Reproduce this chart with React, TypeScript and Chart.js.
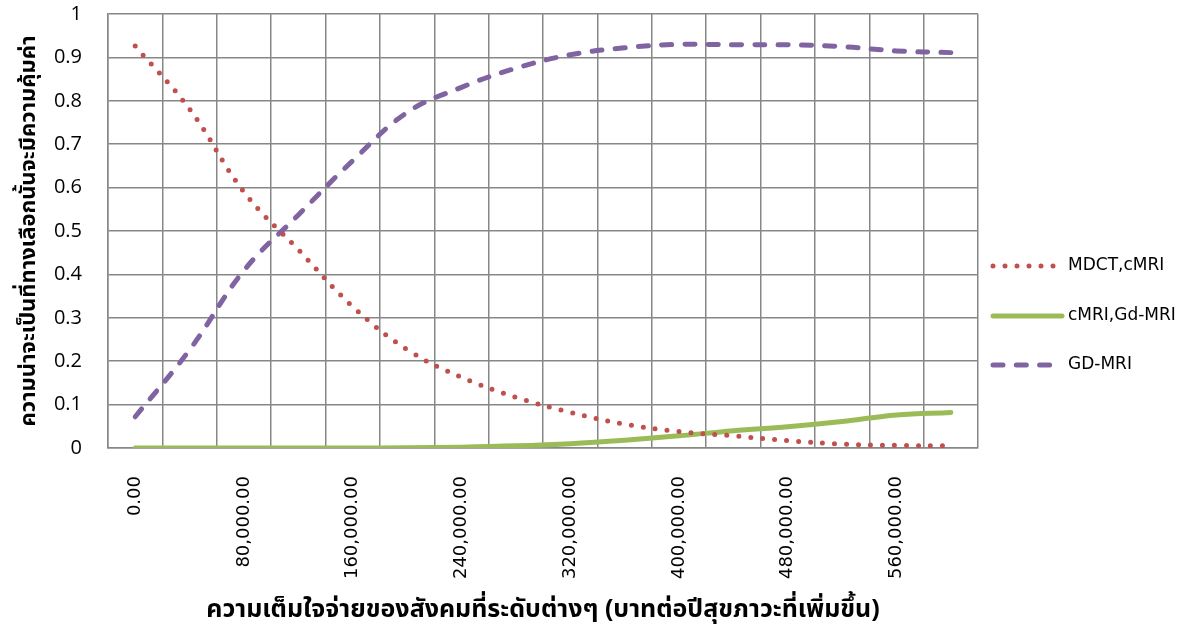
import { useEffect, useRef } from "react";
import { Chart, registerables } from "chart.js";

Chart.register(...registerables);

// Willingness-to-pay levels (baht per QALY gained)
const wtpLevels = [
  0, 40000, 80000, 120000, 160000, 200000, 240000, 280000,
  320000, 360000, 400000, 440000, 480000, 520000, 560000, 600000,
];

// Probability that each strategy is cost-effective at every WTP level
const mdctCmri = [
  0.926, 0.781, 0.59, 0.457, 0.326, 0.227, 0.163, 0.117,
  0.082, 0.055, 0.038, 0.028, 0.017, 0.009, 0.006, 0.005,
];
const cmriGdMri = [
  0, 0, 0, 0, 0, 0.0005, 0.002, 0.005,
  0.01, 0.018, 0.028, 0.04, 0.049, 0.061, 0.076, 0.082,
];
const gdMri = [
  0.072, 0.226, 0.409, 0.537, 0.662, 0.773, 0.831, 0.875,
  0.906, 0.922, 0.93, 0.929, 0.929, 0.925, 0.915, 0.911,
];

const seriesNames = ["MDCT,cMRI", "cMRI,Gd-MRI", "GD-MRI"];
const yTicks = [0, 0.1, 0.2, 0.3, 0.4, 0.5, 0.6, 0.7, 0.8, 0.9, 1];

const xTitle = "ความเต็มใจจ่ายของสังคมที่ระดับต่างๆ (บาทต่อปีสุขภาวะที่เพิ่มขึ้น)";
const yTitle = "ความน่าจะเป็นที่ทางเลือกนั้นจะมีความคุ้มค่า";

const formatBaht = (v: number) =>
  v.toLocaleString("en-US", { minimumFractionDigits: 2, maximumFractionDigits: 2 });

const GRID = "#878787";
const THAI_FONT = "Tahoma, 'Noto Sans Thai', 'Noto Sans', 'DejaVu Sans', sans-serif";

// Legend drawn at the right of the plot, with each dataset's own line style
const sideLegend = {
  id: "sideLegend",
  afterDraw(chart: any) {
    const ctx = chart.ctx;
    const rows = [266, 316, 365];
    chart.data.datasets.forEach((ds: any, i: number) => {
      const y = rows[i];
      ctx.save();
      ctx.strokeStyle = ds.borderColor;
      ctx.lineWidth = ds.borderWidth;
      ctx.lineCap = ds.borderCapStyle || "butt";
      ctx.setLineDash(ds.borderDash || []);
      ctx.beginPath();
      const x0 = 993;
      const x1 = i === 1 ? 1062 : i === 0 ? 1054 : 1052;
      ctx.moveTo(x0, y);
      ctx.lineTo(x1, y);
      ctx.stroke();
      ctx.setLineDash([]);
      ctx.fillStyle = "#000";
      ctx.font = "17px 'DejaVu Sans', sans-serif";
      ctx.textAlign = "left";
      ctx.textBaseline = "middle";
      ctx.fillText(ds.label, 1068, y);
      ctx.restore();
    });
  },
};

export default function App() {
  const canvasRef = useRef<HTMLCanvasElement | null>(null);

  useEffect(() => {
    const canvas = canvasRef.current;
    if (!canvas) return;
    const labels = wtpLevels.map(formatBaht);
    const chart = new Chart(canvas, {
      type: "line",
      data: {
        labels,
        datasets: [
          {
            label: seriesNames[0],
            data: mdctCmri,
            borderColor: "#C0504D",
            borderWidth: 5,
            borderDash: [0, 12],
            borderCapStyle: "round",
            pointRadius: 0,
            tension: 0.4,
            fill: false,
          },
          {
            label: seriesNames[1],
            data: cmriGdMri,
            borderColor: "#9BBB59",
            borderWidth: 5,
            borderCapStyle: "round",
            pointRadius: 0,
            tension: 0.4,
            fill: false,
          },
          {
            label: seriesNames[2],
            data: gdMri,
            borderColor: "#8064A2",
            borderWidth: 5,
            borderDash: [10, 13.3],
            borderCapStyle: "round",
            pointRadius: 0,
            tension: 0.4,
            fill: false,
          },
        ],
      },
      options: {
        responsive: false,
        animation: false,
        layout: { padding: { top: 14, right: 211, bottom: 0, left: 0 } },
        plugins: {
          legend: { display: false },
          tooltip: { enabled: false },
        },
        scales: {
          x: {
            offset: true,
            grid: { offset: true, color: GRID, lineWidth: 1.5, drawTicks: false },
            border: { color: GRID, width: 1.5 },
            ticks: {
              autoSkip: false,
              minRotation: 90,
              maxRotation: 90,
              padding: 28,
              color: "#000",
              font: { family: "'DejaVu Sans', sans-serif", size: 18 },
              callback: function (this: any, v: any, i: number) {
                return i % 2 === 0 ? this.getLabelForValue(v) : "";
              },
            },
            title: {
              display: true,
              text: xTitle,
              color: "#000",
              font: { family: THAI_FONT, size: 25, weight: "bold" },
              padding: { top: 0, bottom: 7 },
            },
            afterFit: (s: any) => {
              s.height = 186;
            },
          },
          y: {
            min: 0,
            max: 1,
            afterBuildTicks: (s: any) => {
              s.ticks = yTicks.map((value) => ({ value }));
            },
            // invisible tick marks push the labels away from the axis
            grid: {
              color: GRID,
              lineWidth: 1.5,
              drawTicks: true,
              tickLength: 24,
              tickColor: "rgba(0,0,0,0)",
            },
            border: { color: GRID, width: 1.5 },
            ticks: {
              padding: 2,
              color: "#000",
              font: { family: "'Open Sans', sans-serif", size: 20 },
              callback: (v: any) => String(Number(Number(v).toFixed(1))),
            },
            title: {
              display: true,
              text: yTitle,
              color: "#000",
              font: { family: THAI_FONT, size: 22, weight: "bold" },
              padding: { top: 17, bottom: 0 },
            },
            afterFit: (s: any) => {
              s.width = 108;
            },
          },
        },
      },
      plugins: [sideLegend],
    });
    return () => chart.destroy();
  }, []);

  return (
    <div style={{ position: "absolute", left: 0, top: 0, width: 1189, height: 634, background: "#fff" }}>
      <canvas ref={canvasRef} width={1189} height={634} style={{ display: "block" }} />
    </div>
  );
}
